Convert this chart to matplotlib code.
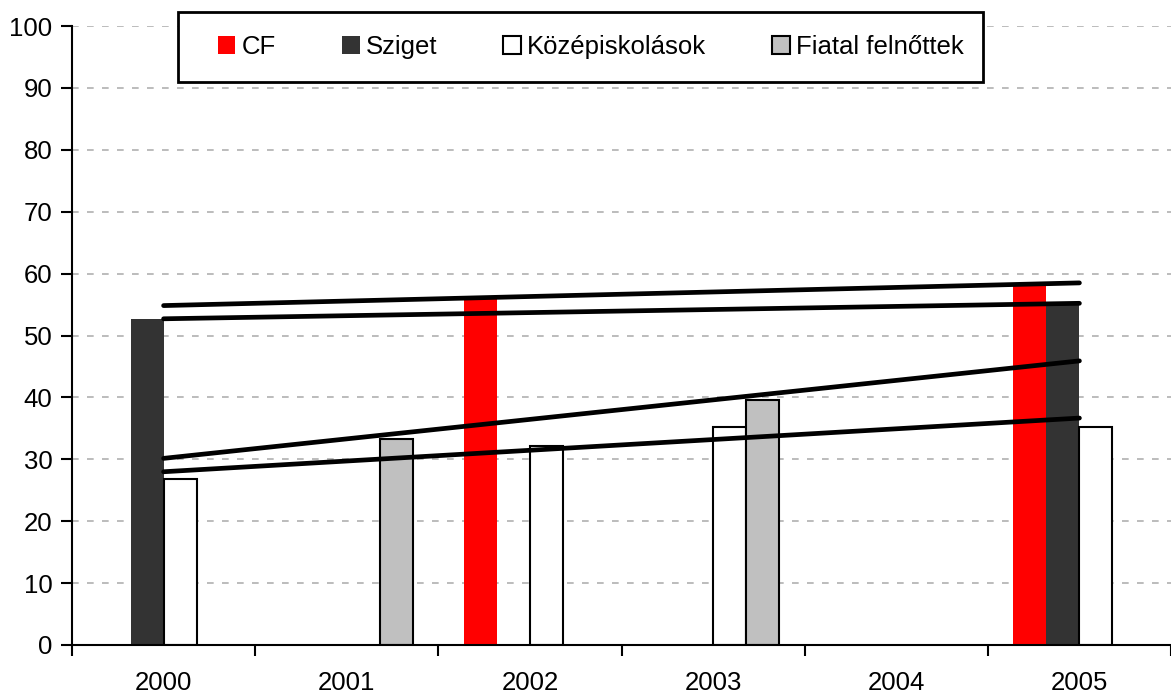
import matplotlib
matplotlib.use("Agg")
import matplotlib.pyplot as plt
import numpy as np
from matplotlib.patches import Rectangle

plt.rcParams["font.family"] = ["Liberation Sans", "DejaVu Sans"]

years = ["2000", "2001", "2002", "2003", "2004", "2005"]
series = ["CF", "Sziget", "Középiskolások", "Fiatal felnőttek"]
cf = [np.nan, np.nan, 56.3, np.nan, np.nan, 58.5]
sziget = [52.7, np.nan, np.nan, np.nan, np.nan, 55.2]
kozep = [26.8, np.nan, 32.1, 35.2, np.nan, 35.2]
fiatal = [np.nan, 33.3, np.nan, 39.6, np.nan, np.nan]
colors = ["#ff0000", "#333333", "#ffffff", "#c0c0c0"]
edges = ["none", "none", "black", "black"]

W, H = 1171, 700
FS = 18.5
fig = plt.figure(figsize=(W / 100, H / 100), dpi=100)
ax = fig.add_axes([72 / W, 55 / H, 1 - 72 / W, (645 - 26) / H])

x = np.arange(len(years))
bw = 0.18
handles = []
for i, (vals, c, e) in enumerate(zip([cf, sziget, kozep, fiatal], colors, edges)):
    b = ax.bar(x + (i - 1.5) * bw, vals, bw, color=c, edgecolor=e, linewidth=1.5,
               label=series[i], zorder=2)
    handles.append(b)

# linear trend lines over the available points
for vals in [cf, sziget, kozep, fiatal]:
    v = np.array(vals, dtype=float)
    m = ~np.isnan(v)
    k, b0 = np.polyfit(x[m], v[m], 1)
    ax.plot([x[0], x[-1]], [b0, k * x[-1] + b0], color="black", lw=3.4,
            solid_capstyle="round", zorder=3)

ax.set_xlim(-0.5, 5.5)
ax.set_ylim(0, 100)
ax.set_yticks(range(0, 101, 10))
ax.yaxis.grid(True, color="#b0b0b0", linestyle=(0, (4, 5)), linewidth=1.2)
ax.set_axisbelow(True)
for s in ["top", "right"]:
    ax.spines[s].set_visible(False)
for s in ["left", "bottom"]:
    ax.spines[s].set_linewidth(1.5)
    ax.spines[s].set_zorder(4)

ax.set_xticks(x)
ax.set_xticklabels(years)
ax.set_xticks(np.arange(-0.5, 6, 1), minor=True)
ax.tick_params(axis="x", which="major", length=0, pad=19, labelsize=FS)
ax.tick_params(axis="x", which="minor", length=8, width=1.5, direction="out")
ax.tick_params(axis="y", length=8, width=1.5, direction="out", pad=6, labelsize=FS)

# legend box
fig.patches.append(Rectangle((178 / W, 1 - 82 / H), (983 - 178) / W, 70 / H,
                             transform=fig.transFigure, fill=True, facecolor="white",
                             edgecolor="black", linewidth=2, zorder=5))
leg = fig.legend(handles=handles, labels=series, ncol=4, mode="expand",
                 bbox_to_anchor=(218 / W, 1 - 62 / H, (964 - 218) / W, 30 / H),
                 loc="center", frameon=False, fontsize=FS, handlelength=0.68,
                 handleheight=0.68, handletextpad=0.25, borderpad=0, borderaxespad=0)
leg.set_zorder(6)

fig.savefig("out.png", dpi=100)
